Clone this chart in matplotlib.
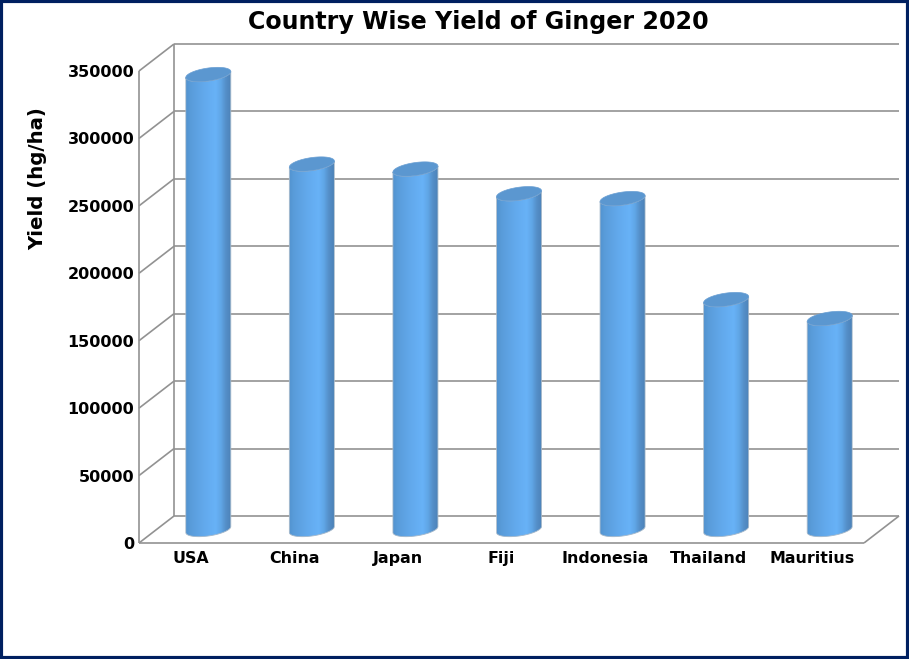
import numpy as np
import matplotlib
matplotlib.use("Agg")
import matplotlib.pyplot as plt
from matplotlib.colors import LinearSegmentedColormap
from matplotlib.patches import Polygon, Rectangle

countries = ["USA", "China", "Japan", "Fiji", "Indonesia", "Thailand", "Mauritius"]
yields = [337400, 271000, 267300, 249000, 245400, 170500, 156500]
y_ticks = [0, 50000, 100000, 150000, 200000, 250000, 300000, 350000]
title = "Country Wise Yield of Ginger 2020"
y_label = "Yield (hg/ha)"

W, H = 909, 659
L, R, T, B = 139, 864, 71, 543
fig = plt.figure(figsize=(W / 100, H / 100), dpi=100, facecolor="white")
ax = fig.add_axes([L / W, (H - B) / H, (R - L) / W, (B - T) / H])
ax.set_facecolor("none")
for s in ax.spines.values():
    s.set_visible(False)

xlim = (-0.5, len(countries) - 0.5)
ylim = (0, 350000)
px_x = (xlim[1] - xlim[0]) / (R - L)
px_y = (ylim[1] - ylim[0]) / (B - T)
DX, DY = 35 * px_x, 27 * px_y
GRID = "#929292"


def wall(xs, ys, lw=1.2):
    ax.plot(xs, ys, color=GRID, lw=lw, clip_on=False, solid_capstyle="butt", zorder=1)


# Back wall, side wall and floor, driven by the axis ticks
for v in y_ticks:
    wall([xlim[0], xlim[0] + DX], [v, v + DY])
    wall([xlim[0] + DX, xlim[1] + DX], [v + DY, v + DY])
wall([xlim[0], xlim[0]], [0, 350000])
wall([xlim[0] + DX, xlim[0] + DX], [DY, 350000 + DY])
wall([xlim[0], xlim[1]], [0, 0])
wall([xlim[1], xlim[1] + DX], [0, DY])

# Cylinders
cmap = LinearSegmentedColormap.from_list(
    "cyl",
    [(0.0, "#5293d0"), (0.12, "#5a9ddb"), (0.40, "#62a9ec"), (0.66, "#68b2f7"),
     (0.78, "#60a6e6"), (0.88, "#5590ca"), (1.0, "#4c82b8")],
)
a = 22.5 * px_x
b = 6.5 * px_y
k = 3.0 * px_y
t_front = np.linspace(np.pi, 2 * np.pi, 60)
t_full = np.linspace(0, 2 * np.pi, 120)
grad = np.linspace(0, 1, 256)[None, :]

for i, v in enumerate(yields):
    cx = i + DX / 2
    base = DY / 2
    top = v + DY / 2
    fx = cx + a * np.cos(t_front)
    ft = b * np.sin(t_front) + k * np.cos(t_front)
    side_x = np.r_[fx, fx[::-1]]
    side_y = np.r_[base + ft, (top + ft)[::-1]]
    side = Polygon(np.c_[side_x, side_y], closed=True, fc="none", ec="#a5b8ca", lw=0.6,
                   clip_on=False, zorder=3)
    ax.add_patch(side)
    im = ax.imshow(grad, extent=(cx - a, cx + a, base - 2 * b, top + 2 * b), cmap=cmap,
                   aspect="auto", origin="lower", zorder=2.5, interpolation="bilinear")
    im.set_clip_path(side)
    cap = Polygon(np.c_[cx + a * np.cos(t_full),
                        top + b * np.sin(t_full) + k * np.cos(t_full)],
                  closed=True, fc="#5b97d0", ec="#6a9fd3", lw=0.5, clip_on=False, zorder=4)
    ax.add_patch(cap)

ax.set_xlim(*xlim)
ax.set_ylim(*ylim)
ax.set_xticks(range(len(countries)), countries, fontweight="bold", fontsize=11.4)
ax.set_yticks(y_ticks, [str(v) for v in y_ticks], fontweight="bold", fontsize=11.5)
ax.tick_params(axis="both", length=0)
ax.tick_params(axis="x", pad=5.5)
ax.tick_params(axis="y", pad=3.5)
ax.set_ylabel(y_label, fontweight="bold", fontsize=14.2)
ax.yaxis.set_label_coords((47 - L) / (R - L), (B - 179) / (B - T))
ax.text((478 - L) / (R - L), (B - 22) / (B - T), title, transform=ax.transAxes,
        ha="center", va="center", fontweight="bold", fontsize=17.1, clip_on=False)

fig.add_artist(Rectangle((1 / W, 1 / H), (W - 2) / W, (H - 2) / H, transform=fig.transFigure,
                         fc="none", ec="#002060", lw=3))
fig.savefig("out.png", dpi=100)
